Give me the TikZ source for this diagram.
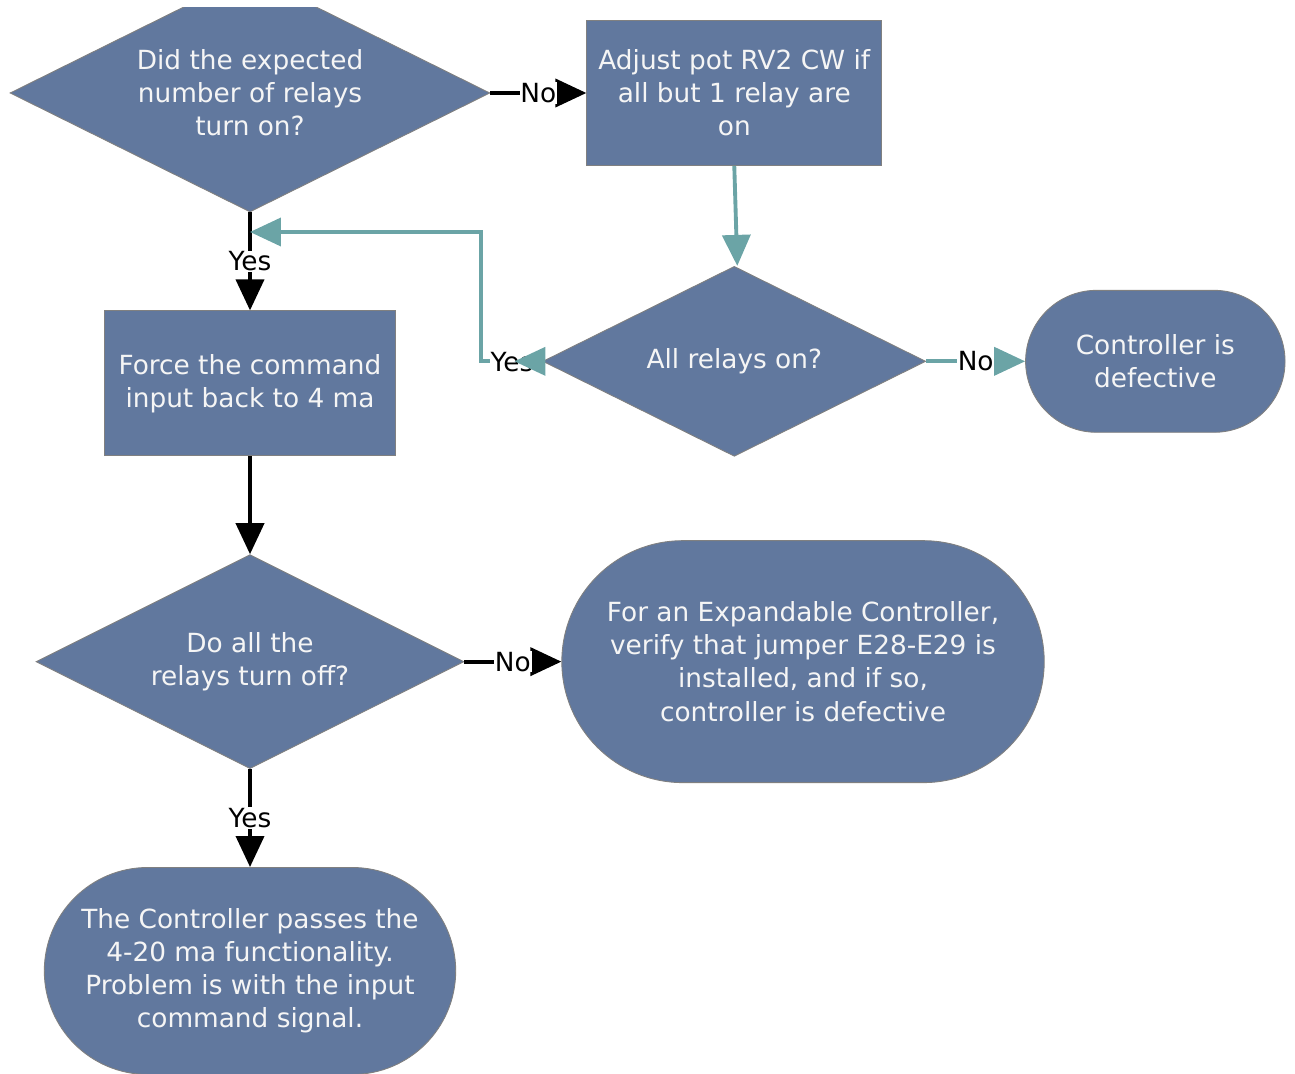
\documentclass[tikz,border=0pt]{standalone}
\usepackage{fontspec}
\setmainfont{DejaVu Sans}
\usetikzlibrary{shapes.geometric,shapes.misc,arrows.meta,positioning}
\definecolor{boxblue}{RGB}{97,120,158}
\definecolor{loopteal}{RGB}{107,164,166}
\definecolor{edgegray}{RGB}{128,128,128}

\begin{document}
\begin{tikzpicture}[
    x=0.02cm, y=-0.02cm,
    font=\fontsize{15pt}{18.8pt}\selectfont,
    base/.style={draw=edgegray, line width=0.5pt, fill=boxblue, text=white!96!black, align=center, inner sep=1pt},
    decision/.style={base, diamond, aspect=2},
    process/.style={base, rectangle},
    terminal/.style={base, rounded rectangle},
    arrow/.style={line width=2.2pt, -{Triangle[length=0.62cm,width=0.56cm]}},
    tarrow/.style={arrow, draw=loopteal},
    answer/.style={fill=white, inner sep=0.5pt, text=black}
]
\useasboundingbox (0,0) rectangle (1295,1074);

% First check (top cut off)
\begin{scope}
\clip (0,8) rectangle (1295,1074);
\node[decision, minimum width=9.6cm, minimum height=4.76cm] (expected) at (250,93) {Did the expected\\number of relays\\turn on?};
\end{scope}

% Adjust branch
\node[process, minimum width=5.9cm, minimum height=2.9cm, right=1.92cm of expected] (adjust) {Adjust pot RV2 CW if\\all but 1 relay are\\on};
\node[decision, minimum width=7.66cm, minimum height=3.8cm, below=2cm of adjust] (allon) {All relays on?};
\node[terminal, minimum width=5.26cm, minimum height=2.84cm, right=1.98cm of allon] (defective) {Controller is\\defective};

% Main column
\node[process, minimum width=5.82cm, minimum height=2.9cm, below=1.96cm of expected] (force) {Force the command\\input back to 4 ma};
\node[decision, minimum width=8.56cm, minimum height=4.28cm, below=1.96cm of force] (alloff) {Do all the\\relays turn off?};
\node[terminal, minimum width=9.72cm, minimum height=4.84cm, right=1.94cm of alloff] (jumper) {For an Expandable Controller,\\verify that jumper E28-E29 is\\installed, and if so,\\controller is defective};
\node[terminal, minimum width=8.3cm, minimum height=4.14cm, below=1.96cm of alloff] (passes) {The Controller passes the\\4-20 ma functionality.\\Problem is with the input\\command signal.};

% Arrows
\draw[arrow] (expected) -- node[answer] {No} (adjust);
\draw[arrow] (expected) -- node[answer] {Yes} (force);
\draw[tarrow] (adjust.south) -- ([xshift=0.06cm]allon.north);
\draw[tarrow] (allon) -- node[answer] {No} (defective);
\draw[arrow] (force) -- (alloff);
\draw[arrow] (alloff) -- node[answer] {No} (jumper);
\draw[arrow] (alloff) -- node[answer] {Yes} (passes);

% Loop back
\coordinate (loopturn) at (481,232);
\draw[tarrow] (allon.west) -| (loopturn) -- (expected.south |- loopturn);
\node[answer] (loopyes) at (512,362) {Yes};
\draw[tarrow] (allon.west) -- ++(-28,0);

\end{tikzpicture}
\end{document}
